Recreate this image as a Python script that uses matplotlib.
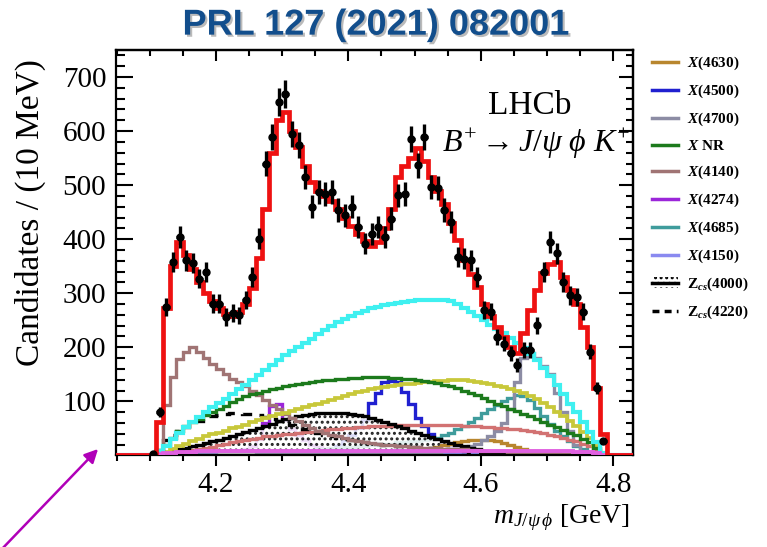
import numpy as np
import matplotlib
matplotlib.use("Agg")
import matplotlib.pyplot as plt
from matplotlib.lines import Line2D
from matplotlib.patches import Patch, FancyArrowPatch
import matplotlib.patheffects as pe

plt.rcParams['font.family'] = ['Liberation Serif', 'DejaVu Serif']
plt.rcParams['mathtext.fontset'] = 'custom'
plt.rcParams['mathtext.rm'] = 'Liberation Serif'
plt.rcParams['mathtext.it'] = 'Liberation Serif:italic'
plt.rcParams['mathtext.bf'] = 'Liberation Serif:bold'
plt.rcParams['mathtext.bfit'] = 'Liberation Serif:italic:bold'
plt.rcParams['hatch.linewidth'] = 1.4

# ---- binning: 10 MeV bins from 4.10 to 4.79 GeV ----
bin_lo = 4.10
bin_w = 0.01
n_bins = 69

# ---- data (candidates per 10 MeV) ----
data = [2, 80, 275, 358, 404, 361, 356, 327, 340, 281,
        281, 256, 263, 259, 287, 330, 401, 540, 589, 654,
        669, 595, 574, 515, 460, 487, 484, 487, 454, 444,
        460, 423, 392, 410, 423, 404, 438, 481, 484, 586,
        537, 589, 497, 494, 454, 432, 367, 364, 361, 330,
        269, 266, 219, 207, 189, 167, 195, 195, 241, 340,
        395, 374, 321, 296, 293, 266, 192, 124, 26]

# ---- total fit ----
total_fit = [0, 62, 272, 350, 395, 370, 345, 320, 300, 285,
             272, 262, 258, 265, 280, 310, 365, 455, 560, 620,
             635, 600, 570, 535, 505, 490, 480, 470, 455, 440,
             425, 410, 396, 388, 395, 420, 455, 515, 535, 550,
             568, 545, 515, 490, 465, 430, 398, 362, 335, 312,
             281, 258, 238, 219, 201, 189, 226, 269, 306, 337,
             355, 358, 330, 306, 281, 238, 201, 125, 40]

# ---- fit components ----
comp_cyan = [0, 8, 18, 30, 42, 52, 62, 71, 80, 89,
             97, 105, 114, 122, 131, 140, 149, 158, 167, 176,
             185, 193, 200, 208, 216, 224, 232, 240, 246, 252,
             258, 263, 268, 272, 275, 278, 280, 282, 284, 286,
             287, 288, 288, 288, 287, 285, 280, 273, 266, 258,
             250, 242, 234, 226, 218, 208, 198, 188, 176, 162,
             146, 130, 113, 96, 80, 62, 44, 24, 5]

x_nr = [0, 5, 20, 33, 45, 54, 62, 68, 74, 80,
        86, 92, 98, 104, 109, 113, 116, 119, 122, 125,
        128, 130, 132, 134, 136, 138, 139, 140, 141, 142,
        143, 144, 145, 145, 145, 145, 144, 143, 142, 141,
        140, 138, 136, 134, 131, 128, 124, 120, 116, 111,
        106, 101, 96, 91, 86, 82, 77, 72, 67, 62,
        57, 52, 47, 42, 37, 31, 24, 14, 3]

comp_yellow = [0, 2, 6, 12, 17, 22, 27, 31, 35, 39,
               42, 46, 50, 53, 57, 61, 65, 69, 72, 76,
               79, 82, 85, 89, 93, 96, 99, 102, 106, 110,
               114, 117, 120, 123, 125, 127, 129, 131, 132, 133,
               134, 135, 136, 137, 138, 139, 139, 139, 138, 136,
               134, 132, 129, 126, 123, 120, 115, 110, 104, 97,
               90, 81, 72, 63, 54, 44, 32, 18, 4]

x4140 = [0, 0, 93, 145, 178, 192, 201, 192, 180, 170,
         160, 150, 142, 135, 128, 120, 112, 103, 94, 85,
         77, 70, 63, 57, 51, 46, 42, 38, 35, 32,
         29, 27, 25, 23, 21, 20, 19, 18, 17, 16,
         15, 14, 13, 13, 12, 12, 11, 11, 10, 10,
         9, 9, 8, 8, 7, 7, 6, 6, 5, 5,
         4, 4, 3, 3, 3, 2, 2, 1, 0]

comp_salmon = [0, 0, 2, 4, 6, 8, 10, 12, 14, 16,
               19, 22, 25, 27, 29, 31, 33, 35, 36, 38,
               39, 40, 41, 43, 44, 45, 47, 48, 49, 50,
               51, 52, 53, 54, 54, 55, 55, 56, 56, 56,
               57, 57, 57, 57, 56, 56, 56, 55, 55, 54,
               53, 52, 51, 50, 49, 48, 47, 45, 43, 41,
               38, 35, 32, 29, 26, 22, 17, 10, 2]

x4274 = [0, 0, 1, 1, 1, 1, 2, 2, 2, 2,
         3, 4, 6, 8, 12, 18, 30, 60, 92, 96,
         65, 48, 38, 28, 20, 15, 12, 10, 9, 8,
         7, 6, 6, 5, 5, 5, 4, 4, 4, 4,
         3, 3, 3, 3, 3, 2, 2, 2, 2, 2,
         2, 2, 2, 1, 1, 1, 1, 1, 1, 1,
         1, 1, 1, 1, 1, 1, 0, 0, 0]

x4500 = [0, 0, 1, 1, 1, 1, 1, 1, 1, 2,
         2, 2, 2, 2, 3, 3, 3, 3, 4, 4,
         4, 5, 5, 6, 7, 8, 10, 12, 18, 28,
         38, 50, 65, 97, 115, 136, 138, 136, 118, 95,
         70, 55, 40, 30, 22, 17, 13, 10, 8, 7,
         6, 5, 4, 4, 3, 3, 3, 2, 2, 2,
         2, 1, 1, 1, 1, 1, 0, 0, 0]

x4685 = [0, 1, 1, 2, 2, 2, 2, 3, 3, 3,
         3, 3, 4, 4, 4, 4, 4, 5, 5, 5,
         6, 7, 8, 9, 10, 11, 12, 13, 14, 15,
         16, 17, 18, 19, 20, 21, 22, 24, 25, 26,
         27, 28, 30, 33, 37, 42, 48, 55, 62, 70,
         78, 86, 94, 101, 107, 111, 110, 102, 88, 72,
         58, 46, 36, 27, 18, 11, 6, 3, 0]

x4700 = [0, 0, 0, 1, 1, 1, 1, 1, 1, 1,
         1, 1, 1, 1, 1, 1, 2, 2, 2, 2,
         2, 2, 2, 2, 2, 3, 3, 3, 3, 3,
         3, 4, 4, 4, 4, 5, 5, 5, 6, 6,
         6, 6, 7, 7, 8, 8, 10, 13, 17, 22,
         28, 36, 46, 60, 85, 135, 180, 189, 180, 165,
         150, 115, 80, 45, 20, 8, 3, 1, 0]

x4630 = [0, 0, 0, 0, 0, 1, 1, 1, 1, 1,
         1, 1, 1, 1, 1, 1, 1, 1, 1, 1,
         1, 1, 1, 2, 2, 2, 2, 2, 2, 2,
         2, 2, 2, 2, 2, 2, 3, 3, 3, 5,
         7, 10, 13, 16, 19, 22, 25, 27, 28, 29,
         29, 28, 26, 23, 20, 16, 12, 9, 6, 4,
         2, 1, 1, 1, 0, 0, 0, 0, 0]

x4150 = [0, 1, 2, 3, 4, 5, 6, 6, 7, 7,
         8, 8, 8, 9, 9, 9, 9, 9, 9, 9,
         9, 9, 9, 9, 9, 9, 9, 9, 8, 8,
         8, 8, 8, 8, 7, 7, 7, 7, 7, 6,
         6, 6, 6, 6, 5, 5, 5, 5, 5, 4,
         4, 4, 4, 4, 3, 3, 3, 3, 3, 2,
         2, 2, 2, 1, 1, 1, 1, 0, 0]

comp_magenta = [0, 2, 4, 5, 6, 7, 7, 8, 8, 8,
                8, 8, 8, 8, 8, 9, 9, 9, 9, 9,
                9, 9, 9, 9, 9, 9, 9, 9, 9, 9,
                9, 9, 9, 9, 9, 9, 9, 9, 9, 9,
                9, 9, 9, 9, 9, 9, 9, 9, 9, 9,
                9, 9, 9, 9, 9, 8, 8, 8, 8, 8,
                8, 8, 8, 8, 7, 7, 6, 4, 1]

zcs4000 = [0, 2, 5, 8, 11, 14, 17, 20, 23, 26,
           29, 32, 35, 39, 43, 47, 51, 55, 59, 63,
           67, 70, 73, 75, 77, 78, 79, 79, 79, 78,
           77, 75, 73, 70, 66, 62, 58, 54, 50, 46,
           42, 38, 34, 30, 26, 23, 20, 17, 14, 11,
           9, 7, 5, 4, 3, 2, 1, 1, 0, 0,
           0, 0, 0, 0, 0, 0, 0, 0, 0]

zcs4220 = [0, 10, 28, 38, 46, 53, 59, 64, 68, 72,
           75, 77, 78, 78, 77, 76, 74, 71, 68, 64,
           60, 56, 52, 48, 44, 41, 38, 35, 32, 30,
           28, 26, 24, 22, 21, 20, 19, 18, 17, 16,
           15, 14, 13, 12, 11, 10, 9, 8, 7, 6,
           5, 5, 4, 4, 3, 3, 2, 2, 2, 1,
           1, 1, 1, 1, 0, 0, 0, 0, 0]

x_ticks = [4.2, 4.4, 4.6, 4.8]
y_ticks = [100, 200, 300, 400, 500, 600, 700]
xlim = (4.049, 4.830)
ylim = (0, 750)

legend_labels = [r'$\mathbfit{X}$(4630)', r'$\mathbfit{X}$(4500)', r'$\mathbfit{X}$(4700)',
                 r'$\mathbfit{X}$ NR', r'$\mathbfit{X}$(4140)', r'$\mathbfit{X}$(4274)',
                 r'$\mathbfit{X}$(4685)', r'$\mathbfit{X}$(4150)',
                 r'$\mathbf{Z}_{\mathbfit{cs}}$(4000)', r'$\mathbf{Z}_{\mathbfit{cs}}$(4220)']

# colours
c_red = '#ee1111'
c_cyan = '#3ff0f0'
c_green = '#1c7a1c'
c_yellow = '#c8c83a'
c_4140 = '#a07474'
c_salmon = '#d27272'
c_4274 = '#9b26d9'
c_4500 = '#2020d0'
c_4685 = '#3f9c9c'
c_4700 = '#8c8ca4'
c_4630 = '#b8862e'
c_4150 = '#8a8af0'
c_magenta = '#e060e0'

# ---- figure ----
fig = plt.figure(figsize=(7.67, 5.47), dpi=100)
ax = fig.add_axes([116/767, 91.6/547, 517/767, 405.4/547])

edges = bin_lo + bin_w * np.arange(n_bins + 1)
centers = edges[:-1] + bin_w / 2
ext_edges = np.concatenate([[xlim[0] - 0.05], edges, [xlim[1] + 0.05]])

def ext(v):
    return np.concatenate([[0], np.asarray(v, float), [0]])

lw_c = 2.4
ax.stairs(ext(comp_magenta), ext_edges, color=c_magenta, lw=2.8, zorder=2.9)
ax.stairs(ext(x4150), ext_edges, color=c_4150, lw=lw_c, zorder=1.9)
ax.stairs(ext(x4630), ext_edges, color=c_4630, lw=lw_c, zorder=2.0)
ax.stairs(ext(x4274), ext_edges, color=c_4274, lw=lw_c, zorder=1.1)
ax.stairs(ext(x4500), ext_edges, color=c_4500, lw=lw_c, zorder=1.1)
ax.stairs(ext(x4685), ext_edges, color=c_4685, lw=lw_c, zorder=1.1)
ax.stairs(ext(x4700), ext_edges, color=c_4700, lw=lw_c, zorder=2.0)
# dotted fill for Zcs(4000)
ax.stairs(zcs4000, edges, fill=True, facecolor='white', edgecolor='black',
          hatch='...', linewidth=0, zorder=1.5, alpha=0.85)
ax.stairs(ext(comp_salmon), ext_edges, color=c_salmon, lw=lw_c, zorder=2.1)
ax.stairs(ext(zcs4000), ext_edges, color='black', lw=lw_c, zorder=2.2)
ax.stairs(ext(zcs4220), ext_edges, color='black', lw=lw_c, ls=(0, (3, 2.5)), zorder=2.2)
ax.stairs(ext(x4140), ext_edges, color=c_4140, lw=lw_c, zorder=2.3)
ax.stairs(ext(comp_yellow), ext_edges, color=c_yellow, lw=2.7, zorder=2.4)
ax.stairs(ext(x_nr), ext_edges, color=c_green, lw=lw_c, zorder=2.5)
ax.stairs(ext(comp_cyan), ext_edges, color=c_cyan, lw=3.0, zorder=2.6)

ax.stairs(ext(total_fit), ext_edges, color=c_red, lw=3.4, zorder=3)

d = np.asarray(data, float)
ax.errorbar(centers, d, yerr=np.sqrt(d), xerr=bin_w / 2, fmt='o', color='black',
            ms=5.0, elinewidth=2.4, capsize=0, zorder=4)

ax.set_xlim(*xlim)
ax.set_ylim(*ylim)

for s in ax.spines.values():
    s.set_linewidth(1.6)

ax.set_xticks(x_ticks)
ax.set_xticks(np.arange(4.05, 4.83, 0.05), minor=True)
ax.set_yticks(y_ticks)
ax.set_yticks(np.arange(20, 750, 20), minor=True)
ax.tick_params(axis='x', which='major', direction='out', length=8, width=1.5,
               labelsize=21, pad=4, top=False)
ax.tick_params(axis='x', which='minor', direction='out', length=4, width=1.5, top=False)
ax.tick_params(axis='y', which='major', direction='in', length=12, width=1.5,
               labelsize=21, pad=7, right=False)
ax.tick_params(axis='y', which='minor', direction='in', length=6.5, width=1.5, right=False)

top = ax.secondary_xaxis('top')
top.set_xticks(x_ticks)
top.set_xticks(np.arange(4.05, 4.83, 0.05), minor=True)
top.tick_params(which='major', direction='in', length=8, width=1.5, labeltop=False)
top.tick_params(which='minor', direction='in', length=4, width=1.5)
top.spines['top'].set_linewidth(1.6)

right = ax.secondary_yaxis('right')
right.set_yticks(y_ticks)
right.set_yticks(np.arange(20, 750, 20), minor=True)
right.tick_params(which='major', direction='in', length=10, width=1.5, labelright=False)
right.tick_params(which='minor', direction='in', length=5, width=1.5)
right.spines['right'].set_linewidth(1.6)

ax.set_ylabel('Candidates / (10 MeV)', fontsize=24)
ax.yaxis.set_label_coords(-0.135, 0.6)
ax.set_xlabel(r'$m_{J/\psi\,\phi}$ [GeV]', fontsize=20, ha='right')
ax.xaxis.set_label_coords(0.994, -0.115)

ax.text(4.674, 646, 'LHCb', fontsize=24, ha='center', va='center')
ax.text(4.826, 561, r'$B^{+} \rightarrow J/\psi\ \phi\ K^{+}$', fontsize=23,
        ha='right', va='baseline')

# title
fig.text(0.49, 0.954, 'PRL 127 (2021) 082001', fontsize=26, fontweight='bold',
         family=['Liberation Sans', 'DejaVu Sans'], color='#124e8c', ha='center', va='center',
         path_effects=[pe.withSimplePatchShadow(offset=(1.5, -1.5), shadow_rgbFace='#777777', alpha=0.5)])

# legend
handles = [Line2D([], [], color=c_4630, lw=2.5),
           Line2D([], [], color=c_4500, lw=2.5),
           Line2D([], [], color=c_4700, lw=2.5),
           Line2D([], [], color=c_green, lw=2.5),
           Line2D([], [], color=c_4140, lw=2.5),
           Line2D([], [], color=c_4274, lw=2.5),
           Line2D([], [], color=c_4685, lw=2.5),
           Line2D([], [], color=c_4150, lw=2.5),
           (Patch(facecolor='white', edgecolor='black', hatch='...', lw=0),
            Line2D([], [], color='black', lw=2.5)),
           Line2D([], [], color='black', lw=2.5, ls=(0, (2, 1.5)))]
fig.legend(handles, legend_labels, loc='upper left', bbox_to_anchor=(652/767, 1 - 55/547),
           frameon=False, prop=dict(family='Liberation Serif', weight='bold', size=11),
           handlelength=1.7, handletextpad=0.6, labelspacing=0.7, borderaxespad=0, borderpad=0)

# arrow
fig.add_artist(FancyArrowPatch((0/767, -4/547), (100/767, 1 - 447/547),
                               transform=fig.transFigure, arrowstyle='-|>',
                               mutation_scale=20, color='#b000b8', lw=1.8))

fig.savefig('out.png', dpi=100)
